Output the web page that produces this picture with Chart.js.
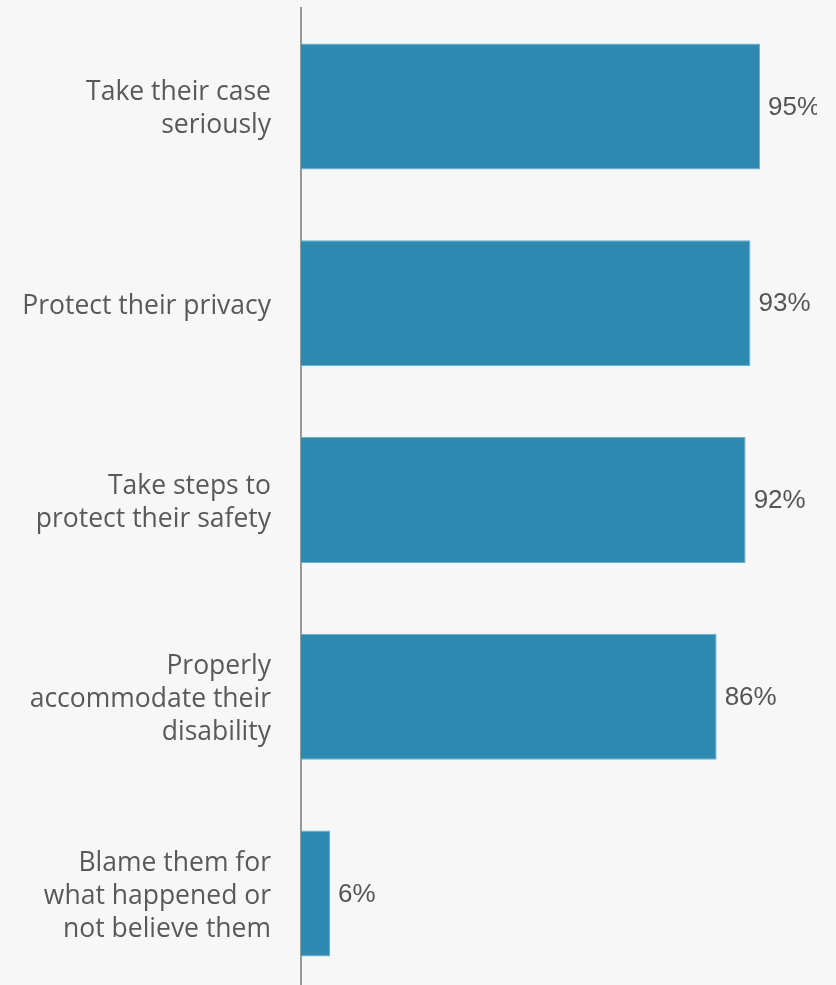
<!DOCTYPE html>
<html>
<head>
<meta charset="utf-8">
<script src="https://cdn.jsdelivr.net/npm/chart.js@4"></script>
<style>
  html, body { margin: 0; padding: 0; background: #f7f7f7; overflow: hidden; }
  #wrap { position: relative; width: 836px; height: 992px; }
</style>
</head>
<body>
<div id="wrap"><canvas id="chart"></canvas></div>
<script>
const categories = [
    ["Take their case", "seriously"],
    ["Protect their privacy"],
    ["Take steps to", "protect their safety"],
    ["Properly", "accommodate their", "disability"],
    ["Blame them for", "what happened or", "not believe them"]
]
const values = [95, 93, 92, 86, 6]
const valueLabels = ["95%", "93%", "92%", "86%", "6%"]

// draws the percentage next to the end of each bar (cut off at the right like the original)
const barLabels = {
    id: "barLabels",
    afterDatasetsDraw(chart) {
        const ctx = chart.ctx
        const meta = chart.getDatasetMeta(0)
        ctx.save()
        ctx.beginPath()
        ctx.rect(0, 0, 817, chart.height)
        ctx.clip()
        ctx.font = '26px "Liberation Sans", Arial, sans-serif'
        ctx.fillStyle = "#555555"
        ctx.textAlign = "left"
        ctx.textBaseline = "middle"
        meta.data.forEach((bar, i) => {
            ctx.fillText(valueLabels[i], bar.x + 8, bar.y + 1)
        })
        ctx.restore()
    }
}

const chart = new Chart(document.querySelector("#chart"), {
    type: "bar",
    data: {
        labels: categories,
        datasets: [{
            data: values,
            backgroundColor: "#2e89b1",
            borderColor: "#6aaed0",
            borderWidth: 1,
            categoryPercentage: 1,
            barPercentage: 0.64
        }]
    },
    options: {
        indexAxis: "y",
        responsive: true,
        maintainAspectRatio: false,
        animation: false,
        layout: { padding: { top: 8, right: 0, bottom: 0, left: 0 } },
        plugins: {
            legend: { display: false },
            tooltip: { enabled: false }
        },
        scales: {
            x: {
                display: false,
                min: 0,
                max: 110.7
            },
            y: {
                grid: { display: false, drawTicks: false },
                border: { display: true, color: "#999999", width: 2 },
                ticks: {
                    padding: 30,
                    labelOffset: 3,
                    color: "#595959",
                    font: { family: '"Open Sans", sans-serif', size: 26.5, lineHeight: 1.245 }
                },
                afterFit(scale) {
                    scale.width = 301
                    scale.paddingTop = 0
                    scale.paddingBottom = 0
                }
            }
        }
    },
    plugins: [barLabels]
})
</script>
</body>
</html>
